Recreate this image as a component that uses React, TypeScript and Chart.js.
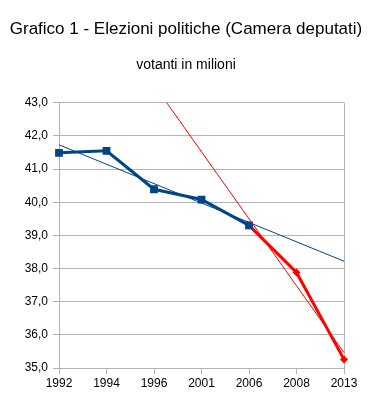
import React, { useEffect, useRef } from "react";
import { Chart, registerables } from "chart.js";

Chart.register(...registerables);

const years = ["1992", "1994", "1996", "2001", "2006", "2008", "2013"];
const votersBefore = [41.49, 41.55, 40.39, 40.08, 39.3, null, null];
const votersAfter = [null, null, null, null, 39.3, 37.88, 35.26];
const trendBefore = [41.73, null, null, null, null, null, 38.22];
const trendAfter = [47.58, null, null, null, null, null, 35.46];

const titleText = "Grafico 1 - Elezioni politiche (Camera deputati)";
const subtitleText = "votanti in milioni";

const GRID = "#b3b3b3";
const BLUE = "#004586";
const RED = "#ff0000";
const FONT = "'Liberation Sans', Arial, sans-serif";

export default function App() {
  const ref = useRef<HTMLCanvasElement | null>(null);

  useEffect(() => {
    document.body.style.margin = "0";
    const canvas = ref.current;
    if (!canvas) return;
    const chart = new Chart(canvas, {
      type: "line",
      data: {
        labels: years,
        datasets: [
          {
            data: trendBefore,
            borderColor: BLUE,
            borderWidth: 1,
            pointRadius: 0,
            spanGaps: true,
            fill: false,
          },
          {
            data: trendAfter,
            borderColor: RED,
            borderWidth: 1,
            pointRadius: 0,
            spanGaps: true,
            fill: false,
          },
          {
            data: votersBefore,
            borderColor: BLUE,
            backgroundColor: BLUE,
            borderWidth: 3,
            pointStyle: "rect",
            pointRadius: 5.5,
            pointBorderWidth: 0,
            fill: false,
          },
          {
            data: votersAfter,
            borderColor: RED,
            backgroundColor: RED,
            borderWidth: 3,
            pointStyle: "rectRot",
            pointRadius: 4,
            pointBorderWidth: 0,
            fill: false,
          },
        ],
      },
      options: {
        responsive: false,
        animation: false,
        layout: { padding: 0 },
        plugins: {
          legend: { display: false },
          tooltip: { enabled: false },
          title: {
            display: true,
            text: titleText,
            color: "#000",
            font: { family: FONT, size: 17, weight: "normal" },
            padding: { top: 19.5, bottom: 0 },
          },
          subtitle: {
            display: true,
            text: subtitleText,
            color: "#000",
            font: { family: FONT, size: 14, weight: "normal" },
            padding: { top: 17, bottom: 29 },
          },
        },
        scales: {
          x: {
            offset: false,
            grid: {
              color: (ctx: any) =>
                ctx.index === 0 || ctx.index === years.length - 1 ? GRID : "transparent",
              tickColor: GRID,
              tickLength: 6,
              drawOnChartArea: true,
            },
            border: { color: GRID },
            ticks: {
              color: "#000",
              font: { family: FONT, size: 12 },
              maxRotation: 0,
              autoSkip: false,
              padding: 2,
            },
            afterFit: (s: any) => {
              s.height = 49;
            },
          },
          y: {
            min: 35,
            max: 43,
            grid: { color: GRID, tickColor: GRID, tickLength: 6 },
            border: { color: GRID },
            ticks: {
              stepSize: 1,
              color: "#000",
              font: { family: FONT, size: 12 },
              padding: 5,
              callback: (v: any) => Number(v).toFixed(1).replace(".", ","),
            },
            afterFit: (s: any) => {
              s.width = 59;
            },
          },
          yRight: {
            position: "right",
            min: 35,
            max: 43,
            grid: { drawOnChartArea: false, drawTicks: false },
            border: { display: false },
            ticks: { display: false },
            afterFit: (s: any) => {
              s.width = 28;
            },
          },
        },
      },
    });
    return () => chart.destroy();
  }, []);

  return (
    <div style={{ width: 372, height: 417, background: "#fff" }}>
      <canvas ref={ref} width={372} height={417} />
    </div>
  );
}
